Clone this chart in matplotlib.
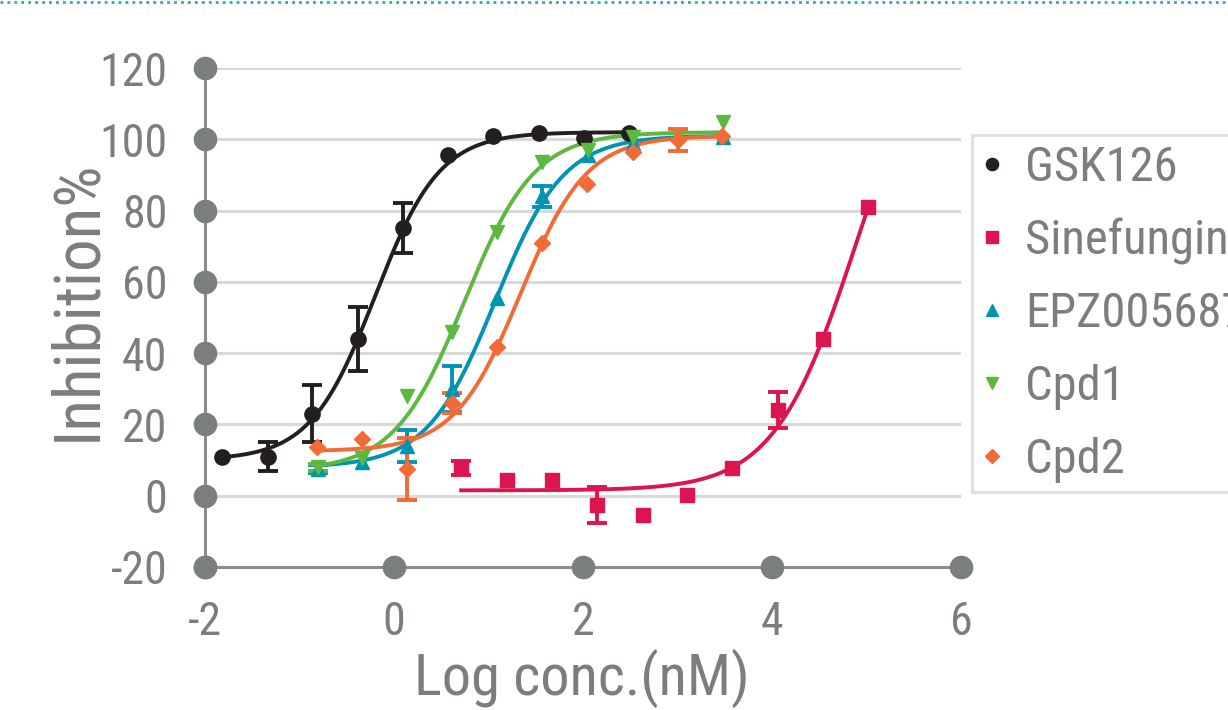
import numpy as np
import matplotlib
matplotlib.use('Agg')
import matplotlib.pyplot as plt
from matplotlib.lines import Line2D
from matplotlib import font_manager

# pick a narrow sans if one is around
avail = {f.name for f in font_manager.fontManager.ttflist}
narrow = [n for n in ['Liberation Sans Narrow', 'Roboto Condensed', 'Open Sans Condensed']
          if n in avail]
if narrow:
    plt.rcParams['font.family'] = [narrow[0], 'DejaVu Sans']
else:
    plt.rcParams['font.family'] = ['DejaVu Sans']
    plt.rcParams['font.stretch'] = 'condensed'
plt.rcParams['axes.unicode_minus'] = False

# dose-response data (log conc in nM, % inhibition, error)
gsk_x = [-1.82, -1.33, -0.87, -0.38, 0.10, 0.57, 1.05, 1.53, 2.01, 2.49]
gsk_y = [11, 11, 23, 44, 75, 95.5, 101, 101.8, 100.5, 101.8]
gsk_e = [0, 4, 8, 9, 7, 0, 0, 0, 0, 0]

sine_x = [0.71, 1.20, 1.67, 2.15, 2.64, 3.10, 3.58, 4.06, 4.54, 5.02]
sine_y = [7.8, 4.4, 4.4, -2.6, -5.4, 0.2, 7.8, 24, 44, 81]
sine_e = [2, 0, 0, 5, 0, 0, 0, 5, 0, 0]

epz_x = [-0.80, -0.34, 0.14, 0.61, 1.09, 1.57, 2.05, 2.53, 3.48]
epz_y = [7.5, 9.5, 14, 30, 55.5, 84, 95.6, 99, 100.6]
epz_e = [1, 0, 4.5, 6.5, 0, 3, 0, 0, 0]

cpd1_x = [-0.80, -0.34, 0.14, 0.61, 1.09, 1.57, 2.05, 2.53, 3.48]
cpd1_y = [8, 10.6, 28, 46, 74, 93.6, 97, 100.6, 104.8]
cpd1_e = [1, 0, 0, 0, 0, 0, 0, 0, 0]

cpd2_x = [-0.81, -0.34, 0.14, 0.61, 1.09, 1.57, 2.04, 2.53, 3.00, 3.47]
cpd2_y = [13.6, 16, 7.5, 26, 41.7, 71, 87.5, 96.5, 99.8, 101]
cpd2_e = [0, 0, 8.7, 2.8, 0, 0, 0, 0, 3, 0]

# 4PL fit params: bottom, top, logIC50, hill
gsk_fit = [10, 102, -0.2, 1.27]
sine_fit = [1.5, 140, 4.89, 1.0]
epz_fit = [8, 101, 1.07, 1.2]
cpd1_fit = [7, 102, 0.745, 1.17]
cpd2_fit = [12.5, 101, 1.34, 1.24]

names = ['GSK126', 'Sinefungin', 'EPZ005687', 'Cpd1', 'Cpd2']
colors = ['#231f20', '#dc1450', '#0094b3', '#5cb83e', '#f26a35']
markers = ['o', 's', '^', 'v', 'D']
msizes = [11, 10.5, 10, 10, 8.5]

series = [(gsk_x, gsk_y, gsk_e, gsk_fit),
          (sine_x, sine_y, sine_e, sine_fit),
          (epz_x, epz_y, epz_e, epz_fit),
          (cpd1_x, cpd1_y, cpd1_e, cpd1_fit),
          (cpd2_x, cpd2_y, cpd2_e, cpd2_fit)]

def four_pl(x, bottom, top, logic50, hill):
    return bottom + (top - bottom) / (1 + 10 ** ((logic50 - x) * hill))

gray = '#7b7e7f'
fig = plt.figure(figsize=(12.28, 7.10), dpi=100)
ax = fig.add_axes([205/1228, 1 - 567/710, (961 - 205)/1228, (567 - 68)/710])

xticks = [-2, 0, 2, 4, 6]
yticks = [-20, 0, 20, 40, 60, 80, 100, 120]

for yt in yticks[1:]:
    ax.axhline(yt, color='#d9d9d9', lw=2.2, zorder=0)

handles = []
for (x, y, e, fit), name, c, m, ms in zip(series, names, colors, markers, msizes):
    xs = np.linspace(min(x), max(x), 300)
    ax.plot(xs, four_pl(xs, *fit), color=c, lw=2.8, zorder=3)
    x = np.array(x)
    y = np.array(y)
    e = np.array(e)
    has = e > 0
    ax.errorbar(x[has], y[has], yerr=e[has], fmt='none', ecolor=c,
                elinewidth=2.8, capsize=7.5, capthick=2.8, zorder=3)
    ax.plot(x, y, ls='none', marker=m, ms=ms, color=c, mec=c, zorder=4)
    handles.append(Line2D([], [], ls='none', marker=m, ms=ms * 0.8,
                          color=c, mec=c, label=name))

ax.set_xlim(-2, 6)
ax.set_ylim(-20, 120)
ax.set_xticks(xticks)
ax.set_yticks(yticks)
ax.tick_params(length=0, labelsize=33, colors=gray)
ax.tick_params(axis='y', pad=27)
ax.tick_params(axis='x', pad=24)
for s in ['top', 'right']:
    ax.spines[s].set_visible(False)
for s in ['left', 'bottom']:
    ax.spines[s].set_color('#8a8c8d')
    ax.spines[s].set_linewidth(2.2)

# round tick markers on both axes
ax.plot([-2] * len(yticks), yticks, 'o', ms=16, color=gray, clip_on=False, zorder=5)
ax.plot(xticks, [-20] * len(xticks), 'o', ms=16, color=gray, clip_on=False, zorder=5)

ax.set_xlabel('Log conc.(nM)', fontsize=42, color=gray, va='baseline')
ax.xaxis.set_label_coords(0.499, -0.2565)
ax.set_ylabel('Inhibition%', fontsize=47, color=gray)
ax.yaxis.set_label_coords(-0.128, 0.535)

leg = fig.legend(handles=handles, loc='upper left',
                 bbox_to_anchor=(972/1228, 1 - 135/710), fontsize=35,
                 frameon=True, fancybox=False, handlelength=0.42,
                 handletextpad=0.47, labelspacing=0.55, borderpad=0.2,
                 borderaxespad=0)
leg.get_frame().set_edgecolor('#d9d9d9')
leg.get_frame().set_linewidth(2.2)
for t in leg.get_texts():
    t.set_color(gray)

# dotted rule along the top edge
fig.add_artist(Line2D([0, 1], [0.997, 0.997], transform=fig.transFigure,
                      color='#29a8c4', lw=2, ls=(0, (1, 1.5))))

fig.savefig('out.png', dpi=100)
